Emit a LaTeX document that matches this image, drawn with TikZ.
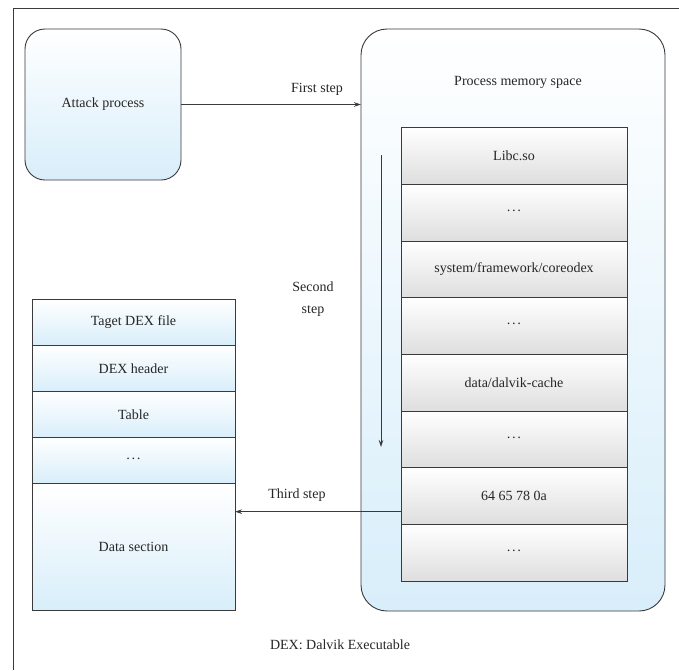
\documentclass[tikz,border=0pt]{standalone}
\usepackage{fontspec}
\setmainfont{Liberation Serif}
\usetikzlibrary{arrows.meta}
\definecolor{lineclr}{HTML}{3A3A3A}
\definecolor{paleblue}{HTML}{D8EEFA}
\definecolor{palegray}{HTML}{DEDEDE}
\newcommand{\gapdots}{\textperiodcentered\kern0.6pt\textperiodcentered\kern0.6pt\textperiodcentered}
\tikzset{
  base/.style={draw=lineclr, line width=0.9pt, outer sep=0pt, inner sep=0pt,
    font=\fontsize{14}{17}\selectfont, text=black!85, align=center},
  bluebox/.style={base, top color=white, bottom color=paleblue},
  memrow/.style={base, top color=white, bottom color=palegray,
    minimum width=226pt, minimum height=56.67pt},
  dexrow/.style={base, top color=white, bottom color=paleblue,
    minimum width=203pt, minimum height=46pt},
  conn/.style={draw=lineclr, line width=0.8pt,
    -{Stealth[length=7pt, width=4.5pt]}},
  lbl/.style={font=\fontsize{14}{22}\selectfont, text=black!85, align=center}
}
\begin{document}
\begin{tikzpicture}[x=1pt, y=-1pt]
\useasboundingbox (0,0) rectangle (679,670);
\fill[white] (0,0) rectangle (679,670);

% partial frame
\draw[lineclr, line width=0.8pt] (13,670) -- (13,8) -- (679,8);

% attack process
\node[bluebox, rounded corners=20pt, minimum width=156pt, minimum height=151pt]
  (attack) at (103,104.5) {Attack process};

% process memory space
\node[bluebox, rounded corners=26pt, minimum width=304pt, minimum height=582pt]
  (mem) at (513,320) {};
\node[lbl] (memtitle) at (518,82) {Process memory space};

% memory rows
\foreach \i/\t in {1/{Libc.so}, 2/{\gapdots}, 3/{system/framework/coreodex},
                   4/{\gapdots}, 5/{data/dalvik-cache}, 6/{\gapdots},
                   7/{64 65 78 0a}, 8/{\gapdots}} {
  \node[memrow] (m\i) at (514, {127.7+56.67*(\i-0.5)}) {\t};
}

% DEX file layout
\foreach \i/\t in {1/{Taget DEX file}, 2/{DEX header}, 3/{Table}, 4/{\gapdots}} {
  \node[dexrow] (d\i) at (133.5, {299.3+46*(\i-0.5)}) {\t};
}
\node[dexrow, minimum height=126.6pt] (d5) at (133.5,547) {Data section};

% first step
\draw[conn] (attack.east) -- (mem.west |- attack.east);
\node[lbl] (l1) at (317,89) {First step};

% second step
\coordinate (s2a) at (381,155);
\coordinate (s2b) at (381,447);
\draw[conn] (s2a) -- (s2b);
\node[lbl] (l2) at (313,299) {Second\\step};

% third step
\coordinate (s3a) at ([yshift=-15.6pt]m7.west);
\draw[conn] (s3a) -- (d5.east |- s3a);
\node[lbl] (l3) at (297,495) {Third step};

% caption
\node[lbl] (cap) at (340,645) {DEX: Dalvik Executable};
\end{tikzpicture}
\end{document}
